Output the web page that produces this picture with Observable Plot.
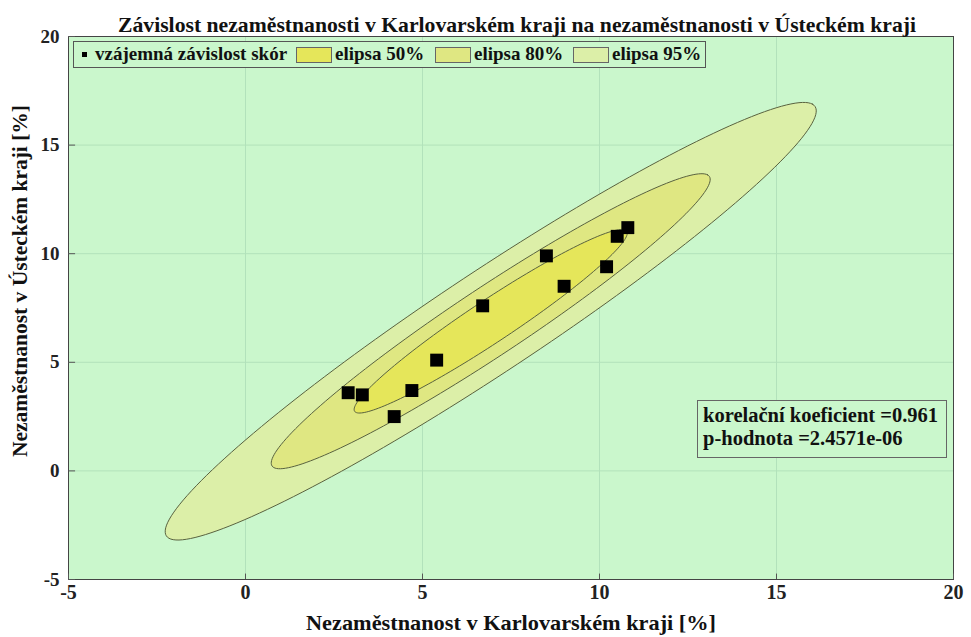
<!DOCTYPE html>
<html>
<head>
<meta charset="utf-8">
<script src="https://cdn.jsdelivr.net/npm/d3@7"></script>
<script src="https://cdn.jsdelivr.net/npm/@observablehq/plot@0.6"></script>
<style>
  html, body { margin: 0; padding: 0; background: #ffffff; }
  #wrap { position: relative; width: 971px; height: 637px; font-family: "Liberation Serif", serif; font-weight: bold; }
  #legend { position: absolute; left: 73px; top: 41px; width: 631px; height: 25px; border: 1px solid #555; background: #caf7cc;
            font-size: 19px; color: #111; }
  #legend > * { position: absolute; }
  #legend span { top: 1px; white-space: nowrap; }
  #legend .mk { width: 5px; height: 5px; background: #000; top: 10px; }
  #legend .sw { width: 34px; height: 14px; border: 1px solid #666; top: 5px; }
  #note { position: absolute; left: 697px; top: 400px; width: 243px; height: 51px; border: 1px solid #666; background: #caf7cc;
          font-size: 20.5px; line-height: 23px; padding: 3px 0 2px 5px; color: #111; white-space: nowrap; }
</style>
</head>
<body>
<div id="wrap"></div>
<script>
// ---- data ----
const karlovarsky = [2.9, 3.3, 4.2, 4.7, 5.4, 6.7, 8.5, 9.0, 10.2, 10.5, 10.8];
const ustecky     = [3.6, 3.5, 2.5, 3.7, 5.1, 7.6, 9.9, 8.5, 9.4, 10.8, 11.2];
const ellipseLevels = [0.95, 0.80, 0.50];
const ellipseLabels = ["elipsa 95%", "elipsa 80%", "elipsa 50%"];
const ellipseFills  = ["#dcefa8", "#dfe782", "#e5e65a"];
const xTicks = [-5, 0, 5, 10, 15, 20];
const yTicks = [-5, 0, 5, 10, 15, 20];
const correlationText = "korelační koeficient =0.961";
const pValueText = "p-hodnota =2.4571e-06";
const titleText = "Závislost nezaměstnanosti v Karlovarském kraji na nezaměstnanosti v Ústeckém kraji";
const xLabel = "Nezaměstnanost v Karlovarském kraji [%]";
const yLabel = "Nezaměstnanost v Ústeckém kraji [%]";
const pointLabel = "vzájemná závislost skór";

const points = karlovarsky.map((x, i) => ({x, y: ustecky[i]}));

// ---- confidence ellipses from the sample mean / covariance (F-based, n points) ----
const n = points.length;
const mx = d3.mean(karlovarsky), my = d3.mean(ustecky);
let sxx = 0, syy = 0, sxy = 0;
for (const p of points) { sxx += (p.x - mx) ** 2; syy += (p.y - my) ** 2; sxy += (p.x - mx) * (p.y - my); }
sxx /= n - 1; syy /= n - 1; sxy /= n - 1;
const tr = sxx + syy, det = sxx * syy - sxy * sxy;
const l1 = tr / 2 + Math.sqrt(tr * tr / 4 - det), l2 = tr / 2 - Math.sqrt(tr * tr / 4 - det);
const ang = Math.atan2(l1 - sxx, sxy);
const nu = n - 2;
function fQuantile2(p) { return nu / 2 * (Math.pow(1 - p, -2 / nu) - 1); }
const ellipses = ellipseLevels.map((lev, k) => {
  const c = Math.sqrt(2 * (n - 1) / (n - 2) * fQuantile2(lev));
  const a = c * Math.sqrt(l1), b = c * Math.sqrt(l2);
  const pts = d3.range(0, 361, 2).map(t => {
    const th = t * Math.PI / 180;
    const u = a * Math.cos(th), v = b * Math.sin(th);
    return {x: mx + u * Math.cos(ang) - v * Math.sin(ang), y: my + u * Math.sin(ang) + v * Math.cos(ang), label: ellipseLabels[k]};
  });
  return {pts, fill: ellipseFills[k]};
});

const fmt = d => d < 0 ? "-" + Math.abs(d) : String(d);
const font = "Liberation Serif";
const chart = Plot.plot({
  width: 971, height: 637,
  marginLeft: 68, marginRight: 18, marginTop: 36, marginBottom: 58,
  style: {fontFamily: font, fontWeight: "bold", background: "#ffffff", color: "#222"},
  x: {domain: [-5, 20], ticks: xTicks, tickFormat: fmt},
  y: {domain: [-5, 20], ticks: yTicks, tickFormat: fmt},
  marks: [
    Plot.frame({fill: "#caf7cc"}),
    Plot.gridX(xTicks, {stroke: "#b2e2bb", strokeOpacity: 1}),
    Plot.gridY(yTicks, {stroke: "#b2e2bb", strokeOpacity: 1}),
    ...ellipses.map(e => Plot.line(e.pts, {x: "x", y: "y", fill: e.fill, stroke: "#59623f", strokeWidth: 1, curve: "linear-closed"})),
    Plot.dot(points, {x: "x", y: "y", symbol: "square", r: 7.3, fill: "#000"}),
    Plot.frame({stroke: "#444", strokeWidth: 1}),
    Plot.ruleX(xTicks, {x: d => d, y1: -5, y2: -4.75, stroke: "#555"}),
    Plot.ruleY(yTicks, {y: d => d, x1: -5, x2: -4.8, stroke: "#555"}),
    Plot.axisX(xTicks, {tickSize: 0, tickPadding: 5, fontSize: 20, label: null, tickFormat: fmt}),
    Plot.axisY(yTicks, {tickSize: 0, tickPadding: 9, fontSize: 19, label: null, tickFormat: fmt}),
    Plot.text([titleText], {frameAnchor: "top", dx: 6, dy: -19, fontSize: 21, fontWeight: "bold", fill: "#111", className: "ttl"}),
    Plot.text([xLabel], {frameAnchor: "bottom", dy: 50, fontSize: 21, fontWeight: "bold", fill: "#111", className: "xlab"}),
    Plot.text([yLabel], {frameAnchor: "left", dx: -48, dy: -27, rotate: -90, textAnchor: "middle", fontSize: 21, fontWeight: "bold", fill: "#111", className: "ylab"})
  ]
});

const wrap = document.getElementById("wrap");
wrap.appendChild(chart);

// condense title / axis labels to match the narrow face of the original
const fit = (sel, len) => { const el = chart.querySelector(sel); if (el) { el.setAttribute("textLength", len); el.setAttribute("lengthAdjust", "spacingAndGlyphs"); } };
fit("g.ttl text", 798);
fit("g.xlab text", 410);
fit("g.ylab text", 352);

// legend
const legend = document.createElement("div");
legend.id = "legend";
const legendNames = [ellipseLabels[2], ellipseLabels[1], ellipseLabels[0]];
const legendFills = [ellipseFills[2], ellipseFills[1], ellipseFills[0]];
const swLeft = [222, 361, 499];
let html = `<div class="mk" style="left:8px"></div><span style="left:21px">${pointLabel}</span>`;
legendNames.forEach((nm, i) => {
  html += `<div class="sw" style="left:${swLeft[i]}px;background:${legendFills[i]}"></div><span style="left:${swLeft[i] + 39}px">${nm}</span>`;
});
legend.innerHTML = html;
wrap.appendChild(legend);

// annotation
const note = document.createElement("div");
note.id = "note";
note.innerHTML = `${correlationText}<br>${pValueText}`;
wrap.appendChild(note);
</script>
</body>
</html>
